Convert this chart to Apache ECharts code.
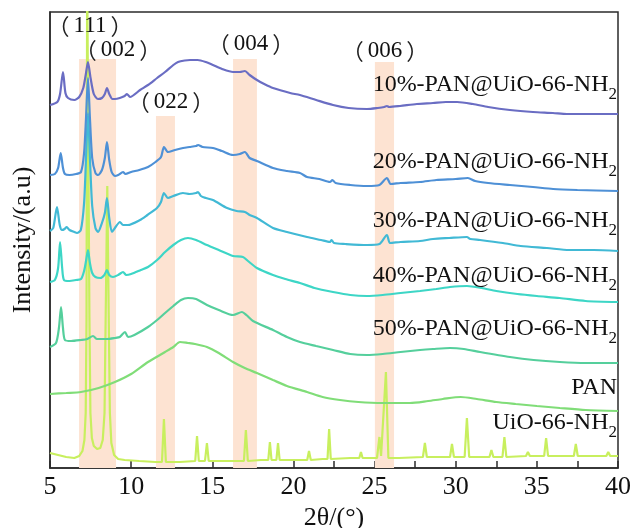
<!DOCTYPE html>
<html>
<head>
<meta charset="utf-8">
<title>XRD patterns</title>
<script src="https://cdn.jsdelivr.net/npm/echarts@6/dist/echarts.min.js"></script>
<style>
  html, body { margin: 0; padding: 0; background: #ffffff; }
  #chart { width: 634px; height: 528px; }
</style>
</head>
<body>
<div id="chart"></div>
<script>
// 2θ tick labels on the bottom axis
const twoThetaTicks = [5, 10, 15, 20, 25, 30, 35, 40];

// Stacked diffraction patterns, [2θ (°), intensity (a.u., offset included)]
const pattern10 = [
  [5.0, 363], [5.45, 366], [5.62, 374], [5.8, 396], [5.95, 375], [6.11, 370], [6.5, 368], [6.8, 371],
  [7.05, 380], [7.2, 393], [7.34, 406], [7.5, 390], [7.7, 374], [7.96, 369], [8.2, 370], [8.38, 374],
  [8.51, 380], [8.65, 374], [8.85, 369], [9.0, 369], [9.3, 370], [9.6, 372], [9.74, 374], [9.93, 371],
  [10.55, 378], [11.04, 383], [11.6, 390], [12.09, 396], [12.6, 403], [12.89, 406], [13.3, 407.5],
  [13.63, 408], [14.1, 408], [14.6, 406], [15.04, 403], [15.6, 399], [16.28, 396], [16.7, 396],
  [17.01, 397], [17.3, 393], [17.75, 388], [18.2, 384], [18.74, 380], [19.8, 375], [20.4, 373],
  [21.4, 368], [22.44, 363], [23.4, 360], [24.53, 359], [25.2, 360], [25.6, 361], [25.76, 362],
  [25.9, 361], [26.57, 362], [27.6, 364], [28.6, 365], [29.4, 366], [30.08, 366], [31.06, 364],
  [32.0, 361], [33.34, 358], [34.76, 356], [35.99, 355], [36.85, 354], [38.5, 354], [40.0, 354]
];
const pattern20 = [
  [5.0, 293], [5.3, 294], [5.5, 300], [5.66, 315], [5.8, 300], [5.92, 294], [6.2, 293], [6.6, 294],
  [6.91, 296], [7.1, 315], [7.22, 350], [7.34, 390], [7.46, 350], [7.6, 310], [7.8, 295], [7.96, 293],
  [8.2, 298], [8.38, 310], [8.51, 326], [8.65, 308], [8.8, 296], [9.0, 292], [9.2, 293], [9.5, 296],
  [9.65, 294], [10.0, 296], [10.5, 298], [11.04, 301], [11.5, 306], [11.84, 311], [12.02, 321],
  [12.27, 316], [12.7, 318], [13.2, 320], [13.6, 321], [14.0, 322], [14.12, 323], [14.4, 321],
  [15.04, 320], [15.6, 317], [16.28, 313], [16.7, 314], [17.01, 316], [17.3, 310], [17.75, 307],
  [18.74, 300], [19.6, 297], [20.4, 295], [20.84, 291], [21.6, 289], [22.25, 286], [22.4, 288],
  [22.6, 285], [23.5, 283], [24.53, 282], [25.3, 283], [25.76, 290], [26.0, 284], [26.6, 285],
  [27.8, 286], [28.8, 288], [30.0, 289], [30.75, 290], [31.2, 287], [32.0, 285], [33.34, 283],
  [34.76, 281], [36.0, 279], [37.5, 278], [40.0, 277]
];
const pattern30 = [
  [5.0, 237], [5.2, 240], [5.43, 261], [5.6, 243], [5.74, 238], [5.9, 239], [6.03, 241], [6.2, 238],
  [6.5, 236], [6.66, 235], [6.9, 238], [7.1, 265], [7.22, 310], [7.34, 355], [7.46, 310], [7.6, 262],
  [7.8, 240], [7.96, 236], [8.2, 245], [8.38, 255], [8.51, 270], [8.65, 250], [8.82, 236], [9.0, 240],
  [9.31, 246], [9.5, 243], [9.8, 243], [10.55, 248], [11.0, 253], [11.59, 260], [11.84, 266],
  [12.02, 275], [12.27, 270], [12.6, 272], [13.19, 275], [13.6, 274], [14.0, 275], [14.12, 276],
  [14.3, 272], [14.6, 270], [15.04, 268], [15.91, 260], [16.5, 257], [17.01, 256], [17.3, 253],
  [17.75, 250], [18.74, 240], [19.6, 236], [20.84, 231], [21.7, 228], [22.25, 226], [22.35, 228],
  [22.5, 225], [23.2, 224], [24.53, 223], [25.3, 224], [25.76, 233], [25.95, 225], [26.6, 226],
  [27.8, 227], [28.6, 229], [29.6, 230], [30.69, 231], [30.9, 229], [31.5, 228], [32.91, 225],
  [34.0, 222], [35.62, 220], [37.0, 218], [38.5, 218], [40.0, 217]
];
const pattern40 = [
  [5.0, 186], [5.3, 188], [5.5, 200], [5.62, 226], [5.75, 200], [5.86, 188], [6.2, 187], [6.6, 188],
  [6.91, 189], [7.1, 197], [7.22, 207], [7.34, 218], [7.46, 205], [7.6, 195], [7.8, 191], [8.1, 190],
  [8.35, 193], [8.51, 198], [8.65, 193], [8.88, 191], [9.2, 193], [9.5, 196], [9.7, 193], [10.0, 194],
  [10.6, 198], [11.04, 201], [11.6, 208], [12.09, 216], [12.6, 223], [13.07, 228], [13.5, 230],
  [14.0, 228], [14.67, 223], [15.4, 218], [16.28, 212], [16.89, 211], [17.2, 207], [17.75, 200],
  [18.74, 193], [19.5, 189], [20.4, 185], [21.3, 180], [22.44, 176], [23.5, 173], [24.53, 172],
  [25.5, 173], [26.6, 175], [27.8, 177], [28.8, 179], [29.65, 181], [30.69, 182], [31.6, 180],
  [32.5, 177], [33.8, 174], [35.0, 172], [36.4, 170], [38.0, 167], [40.0, 166]
];
const pattern50 = [
  [5.0, 121], [5.37, 125], [5.55, 140], [5.68, 161], [5.8, 140], [5.92, 128], [6.3, 127], [6.91, 128],
  [7.3, 129], [7.65, 132], [7.9, 129], [8.5, 129], [9.0, 130], [9.3, 131], [9.62, 136], [9.81, 131],
  [10.2, 133], [11.04, 141], [11.6, 148], [12.09, 155], [12.6, 162], [13.07, 168], [13.5, 170],
  [14.0, 169], [14.67, 163], [15.4, 158], [16.28, 153], [16.83, 156], [17.1, 153], [17.51, 147],
  [18.74, 138], [19.6, 131], [20.4, 126], [21.4, 122], [22.44, 118], [23.5, 114], [24.53, 113],
  [25.5, 114], [26.6, 116], [27.8, 118], [28.6, 119], [29.65, 120], [30.5, 119], [31.5, 116],
  [33.34, 111], [34.8, 108], [36.42, 106], [38.0, 105], [40.0, 105]
];
const patternPAN = [
  [5.0, 74], [6.0, 75], [6.91, 76], [8.0, 80], [9.0, 86], [10.0, 94], [11.04, 106], [12.09, 116],
  [12.6, 121], [13.01, 126], [13.5, 125], [13.93, 124], [14.67, 121], [15.4, 115], [16.28, 106],
  [17.0, 100], [17.75, 95], [18.74, 88], [19.6, 82], [20.84, 76], [21.8, 71], [22.87, 68], [24.0, 66],
  [25.5, 65], [27.18, 65], [28.3, 67], [29.2, 69], [30.3, 71], [31.3, 69], [32.5, 66], [33.7, 64],
  [35.0, 62], [36.42, 60], [38.0, 58], [40.0, 57]
];
const patternUiO = [
  [5.0, 15], [5.5, 13], [6.0, 11], [6.5, 10], [6.8, 12], [7.0, 17], [7.12, 28], [7.2, 55], [7.25, 150],
  [7.29, 500], [7.39, 500], [7.43, 150], [7.49, 55], [7.58, 30], [7.7, 22], [7.9, 19], [8.1, 20],
  [8.25, 28], [8.36, 55], [8.43, 150], [8.53, 282], [8.62, 150], [8.69, 55], [8.78, 25], [8.95, 13],
  [9.2, 9], [9.6, 8], [10.5, 7], [11.5, 6], [11.9, 6], [12.02, 49], [12.14, 6], [13.0, 6], [13.95, 7],
  [14.06, 32], [14.17, 7], [14.55, 7], [14.67, 25], [14.78, 7], [15.5, 7], [16.5, 7], [16.95, 7],
  [17.07, 38], [17.19, 7], [18.0, 8], [18.45, 8], [18.55, 26], [18.65, 8], [18.95, 8], [19.05, 25],
  [19.15, 8], [20.0, 8], [20.85, 8], [20.96, 17], [21.07, 8], [21.8, 9], [22.1, 9], [22.2, 39],
  [22.3, 9], [23.5, 10], [24.06, 10], [24.16, 16], [24.26, 10], [25.15, 10], [25.3, 31], [25.4, 12],
  [25.5, 12], [25.7, 96], [25.85, 10], [26.5, 10], [27.98, 11], [28.1, 25], [28.22, 11], [29.65, 11],
  [29.77, 24], [29.89, 11], [30.55, 11], [30.69, 50], [30.83, 11], [32.08, 11], [32.2, 18], [32.32, 11],
  [32.88, 11], [33.0, 31], [33.12, 11], [34.33, 12], [34.45, 16], [34.57, 12], [35.45, 12], [35.57, 30],
  [35.69, 12], [36.5, 12], [36.6, 14], [36.7, 12], [37.28, 12], [37.4, 24], [37.52, 12], [39.28, 12],
  [39.4, 16], [39.52, 12], [40.0, 12]
];

// Highlighted reflection windows: start / end 2θ and upper intensity edge
const bandStart = [6.79, 11.53, 16.28, 25.02];
const bandEnd = [9.07, 12.70, 17.75, 26.20];
const bandTop = [409, 352, 409, 406];
const reflectionLabels = ['111', '002', '022', '004', '006'];

// Curve names, printed beside each trace
const sampleNames = ['UiO-66-NH2', 'PAN', '50%-PAN@UiO-66-NH2', '40%-PAN@UiO-66-NH2',
  '30%-PAN@UiO-66-NH2', '20%-PAN@UiO-66-NH2', '10%-PAN@UiO-66-NH2'];

// ---- styling / layout ----
const sampleData = [patternUiO, patternPAN, pattern50, pattern40, pattern30, pattern20, pattern10];
const sampleColors = ['#c8ef5e', '#80dd78', '#55cf9c', '#3dd6c6', '#41b9d5', '#4e90d6', '#6a6dc3'];
const serif = '"Liberation Serif", "Times New Roman", serif';
const cjk = '"Noto Sans CJK SC", "Noto Sans CJK JP", sans-serif';

const namePos = [423, 388, 329, 276, 221, 162, 85];        // vertical centres of curve names
const reflectionPos = [[90, 26], [118, 50], [171, 102], [251, 44], [385, 51]];

function richName(name) {
  return name.endsWith('NH2') ? '{m|' + name.slice(0, -1) + '}{s|2}' : '{m|' + name + '}';
}

const chart = echarts.init(document.getElementById('chart'), null, { renderer: 'canvas' });

const series = sampleData.map((data, i) => ({
  type: 'line',
  name: sampleNames[i],
  data: data,
  showSymbol: false,
  symbol: 'none',
  smooth: i === 0 ? false : 0.25,
  clip: true,
  lineStyle: { color: sampleColors[i], width: 2.2 },
  z: 2 + i * 0.01
}));

// shaded windows live under the crystalline pattern
series[0].markArea = {
  silent: true,
  z: 1,
  itemStyle: { color: '#fde3d2', borderWidth: 0 },
  data: bandStart.map((s, k) => [
    { xAxis: s, yAxis: 0 },
    { xAxis: bandEnd[k], yAxis: bandTop[k] }
  ])
};

const graphics = [];
sampleNames.forEach((name, i) => {
  graphics.push({
    type: 'text',
    x: 617,
    y: namePos[i],
    z: 10,
    style: {
      text: richName(name),
      align: 'right',
      verticalAlign: 'middle',
      rich: {
        m: { fontFamily: serif, fontSize: 24, lineHeight: 36, verticalAlign: 'middle', fill: '#111' },
        s: { fontFamily: serif, fontSize: 17, lineHeight: 18, verticalAlign: 'bottom', fill: '#111' }
      }
    }
  });
});
reflectionLabels.forEach((t, i) => {
  graphics.push({
    type: 'text',
    x: reflectionPos[i][0],
    y: reflectionPos[i][1],
    z: 10,
    style: {
      text: '{p|（}{d|' + t + '}{p|）}',
      align: 'center',
      verticalAlign: 'middle',
      rich: {
        p: { fontFamily: cjk, fontSize: 22, lineHeight: 26, fill: '#222' },
        d: { fontFamily: serif, fontSize: 23, lineHeight: 26, padding: [0, 4, 0, 4], fill: '#111' }
      }
    }
  });
});

chart.setOption({
  animation: false,
  backgroundColor: '#ffffff',
  grid: {
    left: 50, right: 16, top: 12, bottom: 60,
    outerBoundsMode: 'none',
    containLabel: false,
    show: true, borderColor: '#2b2b2b', borderWidth: 1.5, backgroundColor: 'transparent'
  },
  xAxis: {
    type: 'value',
    min: twoThetaTicks[0],
    max: twoThetaTicks[twoThetaTicks.length - 1],
    interval: 5,
    name: '2θ/(°)',
    nameLocation: 'middle',
    nameGap: 30,
    nameTextStyle: { fontFamily: serif, fontSize: 26, color: '#111' },
    axisLine: { show: true, onZero: false, lineStyle: { color: '#2b2b2b', width: 1.5 } },
    axisTick: { show: true, inside: true, length: 7, lineStyle: { color: '#2b2b2b', width: 1.5 } },
    minorTick: { show: true, splitNumber: 2, length: 7, lineStyle: { color: '#2b2b2b', width: 1.5 } },
    axisLabel: {
      margin: 6, fontFamily: serif, fontSize: 26, color: '#111',
      formatter: v => (twoThetaTicks.indexOf(v) >= 0 ? String(v) : '')
    },
    splitLine: { show: false }
  },
  yAxis: {
    type: 'value',
    min: 0,
    max: 456,
    name: 'Intensity/(a.u)',
    nameLocation: 'middle',
    nameGap: 14,
    nameTextStyle: { fontFamily: serif, fontSize: 26, color: '#111' },
    axisLine: { show: true, onZero: false, lineStyle: { color: '#2b2b2b', width: 1.5 } },
    axisTick: { show: false },
    axisLabel: { show: false },
    splitLine: { show: false }
  },
  series: series,
  graphic: graphics
});
</script>
</body>
</html>
